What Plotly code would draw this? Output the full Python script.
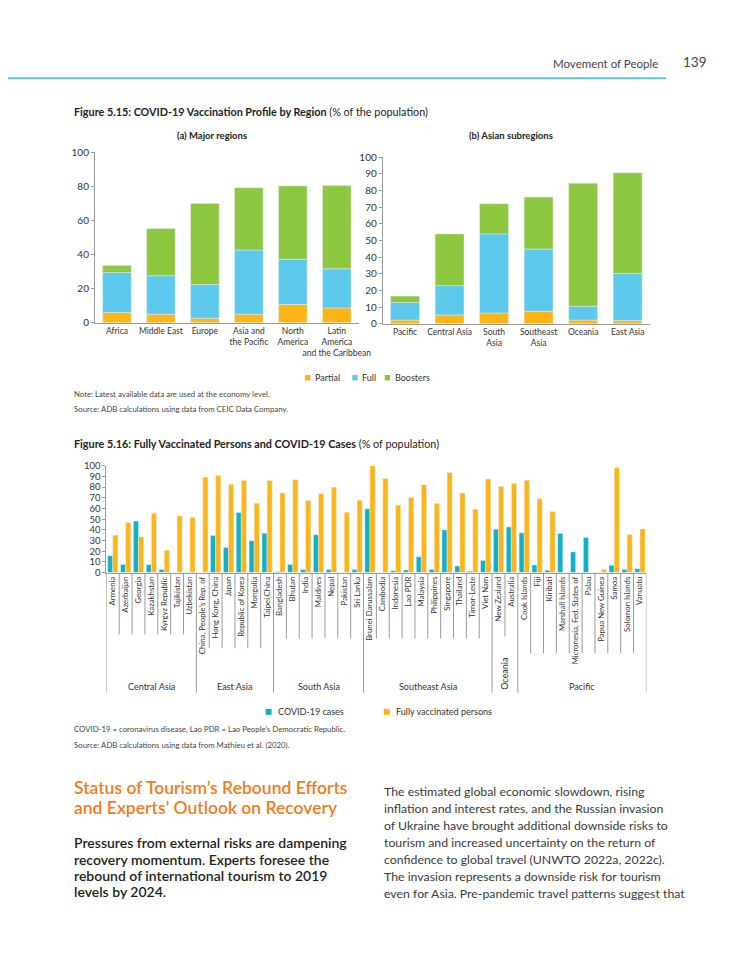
import plotly.graph_objects as go

# The page keeps the browser's default 8px body margin, so the figure is
# sized to fit inside it and positions are given in page pixels.
PAGE_MARGIN = 8
W, H = 750 - 2 * PAGE_MARGIN, 971 - 2 * PAGE_MARGIN


def px(x):
    return (x - PAGE_MARGIN) / W


def py(y):
    return 1 - (y - PAGE_MARGIN) / H


# ---------------- Data: Figure 5.15 ----------------
regions_a = ["Africa", "Middle East", "Europe", "Asia and<br>the Pacific",
             "North<br>America", "Latin<br>America<br>and the Caribbean"]
partial_a = [6.0, 5.0, 2.7, 5.0, 10.8, 8.7]
full_a = [23.5, 22.6, 19.7, 37.7, 26.5, 23.0]
boosters_a = [4.1, 27.8, 47.6, 36.5, 43.0, 48.8]

regions_b = ["Pacific", "Central Asia", "South<br>Asia", "Southeast<br>Asia",
             "Oceania", "East Asia"]
partial_b = [2.2, 5.3, 6.5, 7.5, 2.2, 2.0]
full_b = [10.6, 17.6, 47.5, 37.4, 8.3, 28.2]
boosters_b = [3.8, 31.1, 18.1, 31.2, 73.9, 60.5]

# ---------------- Data: Figure 5.16 ----------------
countries = [
    "Armenia", "Azerbaijan", "Georgia", "Kazakhstan", "Kyrgyz Republic", "Tajikistan", "Uzbekistan",
    "China, People\u2019s Rep. of", "Hong Kong, China", "Japan", "Republic of Korea", "Mongolia", "Taipei,China",
    "Bangladesh", "Bhutan", "India", "Maldives", "Nepal", "Pakistan", "Sri Lanka",
    "Brunei Darussalam", "Cambodia", "Indonesia", "Lao PDR", "Malaysia", "Philippines", "Singapore",
    "Thailand", "Timor-Leste", "Viet Nam",
    "New Zealand", "Australia",
    "Cook Islands", "Fiji", "Kiribati", "Marshall Islands", "Micronesia, Fed. States of", "Palau",
    "Papua New Guinea", "Samoa", "Solomon Islands", "Vanuatu",
]
group_names = ["Central Asia", "East Asia", "South Asia", "Southeast Asia", "Oceania", "Pacific"]
group_sizes = [7, 6, 7, 10, 2, 10]
covid_cases = [15.7, 7.7, 48.3, 7.4, 3.0, 0.2, 0.3,
               0.2, 34.8, 23.4, 56.3, 29.8, 36.9,
               1.0, 7.7, 2.8, 35.4, 3.0, 0.2, 2.8,
               59.7, 0.3, 1.8, 2.5, 14.8, 3.0, 40.0, 6.2, 1.2, 11.4,
               40.6, 42.8,
               37.2, 7.1, 2.2, 36.6, 19.4, 32.9, 0.3, 6.8, 3.0, 3.7]
fully_vaccinated = [35.0, 46.8, 33.5, 55.4, 21.0, 52.9, 51.7,
                    89.2, 90.8, 82.8, 86.2, 64.9, 86.2,
                    74.5, 87.0, 67.4, 73.8, 80.0, 56.6, 67.7,
                    100.0, 88.0, 63.0, 70.2, 82.2, 64.6, 93.8, 74.5, 59.4, 87.7,
                    80.6, 83.4,
                    86.5, 69.2, 57.2, 0.0, 0.0, 0.0, 2.8, 98.2, 35.7, 40.9]

C_PARTIAL = "#FDB515"
C_FULL = "#5BC8EC"
C_BOOST = "#8DC63F"
C_CASES = "#12B0C6"
C_VACC = "#FDB515"
AXIS = "#9a9a9a"
TXT = "#333333"
FONT = "Lato"

fig = go.Figure()


def add_stack(xcats, p, f, b, xa, ya):
    base_full = p
    base_boost = [pp + ff for pp, ff in zip(p, f)]
    fig.add_trace(go.Bar(x=xcats, y=p, name="Partial", marker_color=C_PARTIAL,
                         width=0.65, offset=-0.325, xaxis=xa, yaxis=ya, showlegend=False))
    fig.add_trace(go.Bar(x=xcats, y=f, base=base_full, name="Full", marker_color=C_FULL,
                         width=0.65, offset=-0.325, xaxis=xa, yaxis=ya, showlegend=False))
    fig.add_trace(go.Bar(x=xcats, y=b, base=base_boost, name="Boosters", marker_color=C_BOOST,
                         width=0.65, offset=-0.325, xaxis=xa, yaxis=ya, showlegend=False))


add_stack(regions_a, partial_a, full_a, boosters_a, "x", "y")
add_stack(regions_b, partial_b, full_b, boosters_b, "x2", "y2")

fig.add_trace(go.Bar(x=countries, y=covid_cases, name="COVID-19 cases", marker_color=C_CASES,
                     width=0.4, offset=-0.4, xaxis="x3", yaxis="y3", showlegend=False))
fig.add_trace(go.Bar(x=countries, y=fully_vaccinated, name="Fully vaccinated persons",
                     marker_color=C_VACC, width=0.4, offset=0.0, xaxis="x3", yaxis="y3",
                     showlegend=False))

ax_common = dict(showline=True, linecolor=AXIS, linewidth=1, showgrid=False, zeroline=False,
                 fixedrange=True)

fig.update_layout(
    width=W, height=H, margin=dict(l=0, r=0, t=0, b=0),
    paper_bgcolor="white", plot_bgcolor="white",
    barmode="group", showlegend=False,
    font=dict(family=FONT, color=TXT),
    xaxis=dict(domain=[px(96.4), px(364.6)], anchor="y", range=[-0.5, 5.5], ticks="",
               tickangle=0, tickfont=dict(size=8.5, color=TXT), **ax_common),
    yaxis=dict(domain=[py(320), py(147.3)], anchor="x", range=[0, 100], dtick=20,
               ticks="outside", ticklen=3, tickcolor=AXIS,
               tickfont=dict(size=10, color=TXT), **ax_common),
    xaxis2=dict(domain=[px(389), px(660.6)], anchor="y2", range=[-0.5, 5.5], ticks="",
                tickangle=0, tickfont=dict(size=8.5, color=TXT), **ax_common),
    yaxis2=dict(domain=[py(321), py(152.3)], anchor="x2", range=[0, 100], dtick=10,
                ticks="outside", ticklen=3, tickcolor=AXIS,
                tickfont=dict(size=10, color=TXT), **ax_common),
    xaxis3=dict(domain=[px(108), px(657)], anchor="y3", range=[-0.5, len(countries) - 0.5],
                ticks="", tickangle=-90, tickfont=dict(size=7.8, color=TXT), **ax_common),
    yaxis3=dict(domain=[py(573.3), py(465)], anchor="x3", range=[0, 100], dtick=10,
                ticks="outside", ticklen=3, tickcolor=AXIS,
                tickfont=dict(size=9.5, color=TXT), **ax_common),
)

shapes = []
ann = []


def text(x, y, s, size, color=TXT, xanchor="left", angle=0, yanchor="middle", weight="normal"):
    ann.append(dict(x=px(x), y=py(y), xref="paper", yref="paper", text=s, showarrow=False,
                    xanchor=xanchor, yanchor=yanchor, textangle=angle,
                    font=dict(size=size, color=color, family=FONT, weight=weight)))


# header
shapes.append(dict(type="line", xref="paper", yref="paper", x0=px(8), x1=px(677), y0=py(72), y1=py(72),
                   line=dict(color="#5BC2E7", width=2)))
text(671, 57, "Movement of People", 11.5, "#444444", xanchor="right")
text(692, 56, "139", 13.5, "#444444", xanchor="left")

# Figure 5.15 titles
text(73, 106, "<b>Figure 5.15: COVID-19 Vaccination Profile by Region</b> (% of the population)", 10.8, "#222222")
text(215, 130, "<b>(a) Major regions</b>", 9.5, "#222222", xanchor="center")
text(519, 130, "<b>(b) Asian subregions</b>", 9.5, "#222222", xanchor="center")

# legend 5.15
for sx, col, lab in [(310, C_PARTIAL, "Partial"), (358, C_FULL, "Full"), (391, C_BOOST, "Boosters")]:
    shapes.append(dict(type="rect", xref="paper", yref="paper", x0=px(sx), x1=px(sx + 5.5),
                       y0=py(378.5), y1=py(373), fillcolor=col, line=dict(width=0)))
    text(sx + 8, 376, lab, 9, TXT)

text(73, 392, "Note: Latest available data are used at the economy level.", 7.8, "#444444")
text(73, 407, "Source: ADB calculations using data from CEIC Data Company.", 7.8, "#444444")

# Figure 5.16 title
text(73, 442, "<b>Figure 5.16: Fully Vaccinated Persons and COVID-19 Cases</b> (% of population)", 10.8, "#222222")

# separators and group labels
yax = py(573.3)
inner_bottom = {"Central Asia": 636, "East Asia": 650, "South Asia": 640,
                "Southeast Asia": 640, "Oceania": 638, "Pacific": 655}
start = 0
for gname, gsize in zip(group_names, group_sizes):
    shapes.append(dict(type="line", xref="x3", yref="paper", x0=start - 0.5, x1=start - 0.5,
                       y0=yax, y1=py(695), line=dict(color=AXIS, width=1)))
    for k in range(1, gsize):
        xv = start + k - 0.5
        shapes.append(dict(type="line", xref="x3", yref="paper", x0=xv, x1=xv,
                           y0=yax, y1=py(inner_bottom[gname]), line=dict(color=AXIS, width=1)))
    center = start + (gsize - 1) / 2
    if gname == "Oceania":
        ann.append(dict(x=center, y=py(676), xref="x3", yref="paper", text=gname, showarrow=False,
                        textangle=-90, xanchor="center", yanchor="middle",
                        font=dict(size=9, color=TXT, family=FONT)))
    else:
        ann.append(dict(x=center, y=py(689), xref="x3", yref="paper", text=gname, showarrow=False,
                        xanchor="center", yanchor="middle",
                        font=dict(size=9, color=TXT, family=FONT)))
    start += gsize
shapes.append(dict(type="line", xref="x3", yref="paper", x0=start - 0.5, x1=start - 0.5,
                   y0=yax, y1=py(695), line=dict(color=AXIS, width=1)))

# legend 5.16
for sx, col, lab in [(270, C_CASES, "COVID-19 cases"), (390, C_VACC, "Fully vaccinated persons")]:
    shapes.append(dict(type="rect", xref="paper", yref="paper", x0=px(sx), x1=px(sx + 6),
                       y0=py(717.5), y1=py(711.5), fillcolor=col, line=dict(width=0)))
    text(sx + 10, 714.5, lab, 9, TXT)

text(73, 732, "COVID-19 = coronavirus disease, Lao PDR = Lao People\u2019s Democratic Republic.", 7.8, "#444444")
text(73, 748, "Source: ADB calculations using data from Mathieu et al. (2020).", 7.8, "#444444")

# Section text
ORANGE = "#F47B20"
text(73, 791, "Status of Tourism\u2019s Rebound Efforts", 17.5, ORANGE, weight=600)
text(73, 811, "and Experts\u2019 Outlook on Recovery", 17.5, ORANGE, weight=600)
for i, line in enumerate(["Pressures from external risks are dampening",
                          "recovery momentum. Experts foresee the",
                          "rebound of international tourism to 2019",
                          "levels by 2024."]):
    text(73, 847 + i * 16.7, line, 14, "#231F20", weight=600)

right_lines = ["The estimated global economic slowdown, rising",
               "inflation and interest rates, and the Russian invasion",
               "of Ukraine have brought additional downside risks to",
               "tourism and increased uncertainty on the return of",
               "confidence to global travel (UNWTO 2022a, 2022c).",
               "The invasion represents a downside risk for tourism",
               "even for Asia. Pre-pandemic travel patterns suggest that"]
for i, line in enumerate(right_lines):
    text(388, 795 + i * 17.3, line, 12.3, "#3a3a3a")

fig.update_layout(shapes=shapes, annotations=ann)

fig.write_html("out.html", config={"displayModeBar": False})
